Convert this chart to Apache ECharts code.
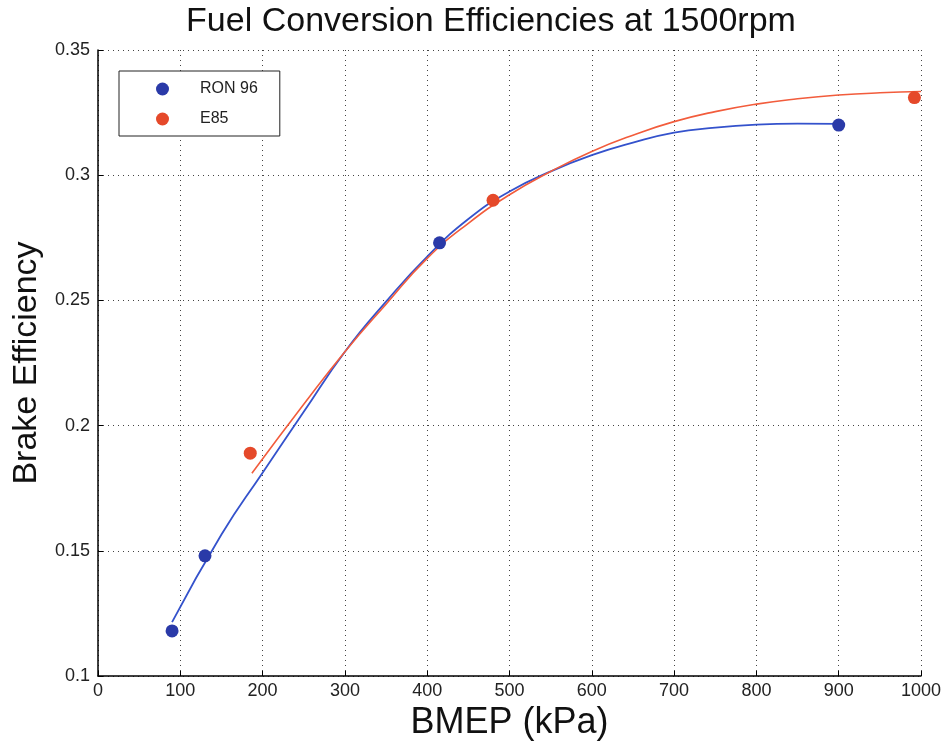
<!DOCTYPE html>
<html>
<head>
<meta charset="utf-8">
<script src="https://cdn.jsdelivr.net/npm/echarts@6/dist/echarts.min.js"></script>
<style>html,body{margin:0;padding:0;background:#fff}#c{width:948px;height:748px}</style>
</head>
<body>
<div id="c"></div>
<script>
// Measured points
const ron96Points = [[90, 0.118], [130, 0.148], [415, 0.273], [900, 0.320]];
const e85Points = [[185, 0.189], [480, 0.290], [992, 0.331]];
// Fitted curves
const ron96Fit = [[90, 0.1215], [150, 0.1565], [200, 0.1812], [250, 0.2055], [300, 0.2295], [350, 0.2495], [400, 0.2675], [450, 0.2825], [500, 0.2935], [550, 0.3015], [600, 0.308], [650, 0.3130], [700, 0.317], [750, 0.3190], [800, 0.3202], [850, 0.3206], [900, 0.3205]];
const e85Fit = [[187, 0.181], [250, 0.2085], [300, 0.2295], [350, 0.2485], [400, 0.2668], [450, 0.2808], [500, 0.2922], [550, 0.3015], [600, 0.3095], [650, 0.3160], [700, 0.3214], [750, 0.3254], [800, 0.3284], [850, 0.3305], [900, 0.332], [950, 0.3329], [1000, 0.3334]];
const seriesNames = ['RON 96', 'E85'];

const font = '"Liberation Sans", Arial, Helvetica, sans-serif';
const blueMark = '#2a3aa8', redMark = '#e5492a';
const blueLine = '#3452cc', redLine = '#f25c3c';

const chart = echarts.init(document.getElementById('c'), null, {renderer: 'canvas'});
chart.setOption({
  animation: false,
  backgroundColor: '#fff',
  title: {
    text: 'Fuel Conversion Efficiencies at 1500rpm',
    left: 486, top: 0, textAlign: 'center',
    textStyle: {fontFamily: font, fontSize: 34, fontWeight: 'normal', color: '#111'}
  },
  legend: {
    data: seriesNames,
    orient: 'vertical',
    left: 119, top: 71,
    borderColor: '#222', borderWidth: 1,
    padding: [10, 22, 9, 37],
    itemWidth: 13, itemHeight: 13, itemGap: 14,
    textStyle: {fontFamily: font, fontSize: 16, color: '#222', padding: [0, 0, 0, 26]},
    backgroundColor: '#fff'
  },
  grid: {left: 98, right: 27, top: 50, bottom: 72, containLabel: false},
  xAxis: {
    type: 'value', min: 0, max: 1000, interval: 100,
    name: 'BMEP (kPa)', nameLocation: 'middle', nameGap: 21,
    nameTextStyle: {fontFamily: font, fontSize: 36, color: '#111'},
    axisLine: {show: true, lineStyle: {color: '#000', width: 1.5}},
    axisTick: {show: true, inside: true, length: 5, lineStyle: {color: '#000'}},
    axisLabel: {fontFamily: font, fontSize: 18, color: '#222', margin: 6,
      formatter: v => String(v)},
    splitLine: {show: true, lineStyle: {color: '#444', type: [1, 4], width: 1}}
  },
  yAxis: {
    type: 'value', min: 0.1, max: 0.35, interval: 0.05,
    name: 'Brake Efficiency', nameLocation: 'middle', nameGap: 54,
    nameTextStyle: {fontFamily: font, fontSize: 34, color: '#111'},
    axisLine: {show: true, lineStyle: {color: '#000', width: 1.5}},
    axisTick: {show: true, inside: true, length: 5, lineStyle: {color: '#000'}},
    axisLabel: {fontFamily: font, fontSize: 18, color: '#222', margin: 8,
      formatter: v => String(Math.round(v * 100) / 100)},
    splitLine: {show: true, lineStyle: {color: '#444', type: [1, 4], width: 1}}
  },
  series: [
    {name: 'RON 96 fit', type: 'line', data: ron96Fit, smooth: true, showSymbol: false,
      lineStyle: {color: blueLine, width: 1.8}, itemStyle: {color: blueLine}, z: 2},
    {name: 'E85 fit', type: 'line', data: e85Fit, smooth: true, showSymbol: false,
      lineStyle: {color: redLine, width: 1.6}, itemStyle: {color: redLine}, z: 2},
    {name: seriesNames[0], type: 'scatter', data: ron96Points, symbol: 'circle', symbolSize: 13,
      itemStyle: {color: blueMark, opacity: 1}, z: 3},
    {name: seriesNames[1], type: 'scatter', data: e85Points, symbol: 'circle', symbolSize: 13,
      itemStyle: {color: redMark, opacity: 1}, z: 3}
  ]
});
</script>
</body>
</html>
